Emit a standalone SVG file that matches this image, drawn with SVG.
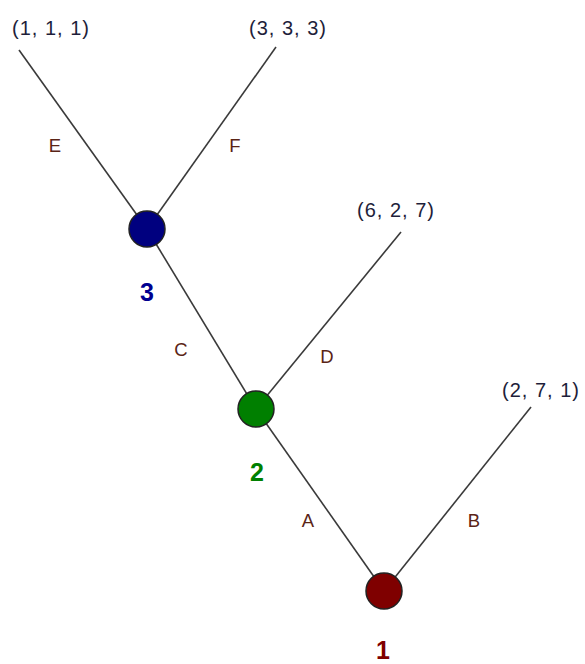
<svg xmlns="http://www.w3.org/2000/svg" width="585" height="664" viewBox="0 0 585 664">
<style>
.edge{stroke:#3a3a3a;stroke-width:1.6;fill:none}
.leaf{font-family:"Liberation Sans",Arial,sans-serif;font-size:20px;letter-spacing:1px;fill:#1e1e3a;text-anchor:middle}
.el{font-family:"Liberation Sans",Arial,sans-serif;font-size:18.5px;fill:#5a2416;text-anchor:middle}
.nl{font-family:"Liberation Sans",Arial,sans-serif;font-size:25px;font-weight:bold;text-anchor:middle}
.node{stroke:#222;stroke-width:1.5}
</style>
<rect width="585" height="664" fill="#fff"/>
<g id="connectors">
<line class="edge" x1="19" y1="50" x2="147" y2="229"/>
<line class="edge" x1="276" y1="47" x2="147" y2="229"/>
<line class="edge" x1="147" y1="229" x2="256" y2="409"/>
<line class="edge" x1="401" y1="232" x2="256" y2="409"/>
<line class="edge" x1="256" y1="409" x2="384" y2="591"/>
<line class="edge" x1="531" y1="407" x2="384" y2="591"/>
<text class="el" x="55" y="152">E</text>
<text class="el" x="235" y="152">F</text>
<text class="el" x="181" y="356">C</text>
<text class="el" x="327" y="363">D</text>
<text class="el" x="308" y="527">A</text>
<text class="el" x="474" y="527">B</text>
</g>
<g id="leaf1"><text class="leaf" x="51" y="35">(1, 1, 1)</text></g>
<g id="leaf2"><text class="leaf" x="288" y="35">(3, 3, 3)</text></g>
<g id="leaf3"><text class="leaf" x="396" y="217">(6, 2, 7)</text></g>
<g id="leaf4"><text class="leaf" x="541" y="397">(2, 7, 1)</text></g>
<g id="node3"><circle class="node" cx="147" cy="229" r="18" fill="#00007f"/><text class="nl" x="147" y="301" fill="#000090">3</text></g>
<g id="node2"><circle class="node" cx="256" cy="409" r="18" fill="#007f00"/><text class="nl" x="257" y="481" fill="#008000">2</text></g>
<g id="node1"><circle class="node" cx="384" cy="591" r="18" fill="#7f0000"/><text class="nl" x="383" y="659" fill="#800000">1</text></g>
</svg>
